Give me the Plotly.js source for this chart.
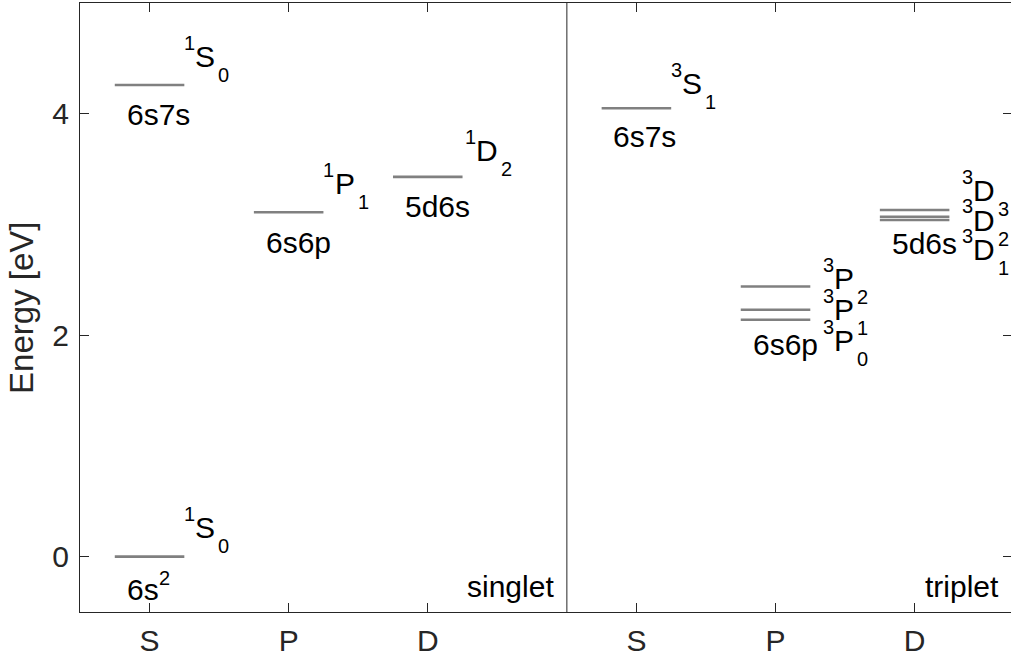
<!DOCTYPE html>
<html><head><meta charset="utf-8">
<script src="https://cdn.plot.ly/plotly-3.0.1.min.js"></script>
<style>html,body{margin:0;padding:0;overflow:hidden;background:#fff}#chart{width:1013px;height:659px}</style>
</head><body><div id="chart"></div>
<script>
// ---------------- data ----------------
const panelNames   = ['singlet', 'triplet'];
const orbitalNames = ['S', 'P', 'D'];
const levelMult    = [1, 1, 1, 1, 3, 3, 3, 3, 3, 3, 3];
const levelL       = ['S', 'S', 'P', 'D', 'S', 'P', 'P', 'P', 'D', 'D', 'D'];
const levelJ       = [0, 0, 1, 2, 1, 0, 1, 2, 1, 2, 3];
const levelConfig  = ['6s<sup>2</sup>', '6s7s', '6s6p', '5d6s', '6s7s', '6s6p', '6s6p', '6s6p', '5d6s', '5d6s', '5d6s'];
const levelEnergy  = [0.00, 4.26, 3.11, 3.43, 4.05, 2.14, 2.23, 2.44, 3.04, 3.07, 3.13];
const yTickVals    = [0, 2, 4];

// ---------------- layout helpers ----------------
const FONT = 'Liberation Sans, Arial, Helvetica, sans-serif';
const TXT = '#000000', AX = '#262626';
const BIG = 30, SMALL = 20;
const panelOffset = {1: 1, 3: 4.5};          // x of S column in each panel
const colX = (mult, L) => panelOffset[mult] + orbitalNames.indexOf(L);
const xTickVals = [], xTickText = [];
[1, 3].forEach(m => orbitalNames.forEach(L => { xTickVals.push(colX(m, L)); xTickText.push(L); }));

const ctx = document.createElement('canvas').getContext('2d');
function tw(s, size) { ctx.font = size + 'px "Liberation Sans"'; return ctx.measureText(s).width; }

// term label placement (letter centre) relative to level energy
const termDx = i => (levelMult[i] === 3 && levelL[i] !== 'S') ? 0.34 : (levelL[i] === 'D' ? 0.27 : 0.25);
const termDy = [0.26, 0.255, 0.26, 0.24, 0.22, -0.185, 0.005, 0.075, -0.27, -0.03, 0.18];
// configuration label placement relative to lowest level of the group
const cfgDy = {'1|6s<sup>2</sup>': -0.30, '1|6s7s': -0.265, '1|6s6p': -0.27, '1|5d6s': -0.265,
               '3|6s7s': -0.253, '3|6s6p': -0.222, '3|5d6s': -0.209};

const annotations = [];
function piece(x, y, text, size, xshift, yshift, color) {
  annotations.push({x: x, y: y, xref: 'x', yref: 'y', text: text, showarrow: false,
    xanchor: 'left', yanchor: 'middle', xshift: xshift, yshift: yshift,
    borderpad: 0, borderwidth: 0, font: {family: FONT, size: size, color: color || TXT}});
}

// level lines
const lx = [], ly = [];
levelEnergy.forEach((E, i) => {
  const p = colX(levelMult[i], levelL[i]);
  lx.push(p - 0.25, p + 0.25, null); ly.push(E, E, null);
});

// term symbols
levelEnergy.forEach((E, i) => {
  const x = colX(levelMult[i], levelL[i]) + termDx(i);
  const y = E + termDy[i];
  const sup = String(levelMult[i]), L = levelL[i], sub = String(levelJ[i]);
  const ws = tw(sup, SMALL), wl = tw(L, BIG);
  piece(x, y, sup, SMALL, 0, 13.6);
  piece(x, y, L, BIG, ws, 0);
  piece(x, y, sub, SMALL, ws + wl + 3, -18.5);
});

// configuration labels (one per group)
const groups = {};
levelEnergy.forEach((E, i) => {
  const k = levelMult[i] + '|' + levelConfig[i];
  if (!(k in groups) || E < groups[k].E) groups[k] = {E: E, i: i};
});
Object.keys(groups).forEach(k => {
  const g = groups[k], i = g.i;
  const x = colX(levelMult[i], levelL[i]) - 0.165;
  const y = g.E + cfgDy[k];
  const m = levelConfig[i].match(/^([^<]*)(?:<sup>(.*)<\/sup>)?$/);
  piece(x, y, m[1], BIG, 0, 0);
  if (m[2]) piece(x, y, m[2], SMALL, tw(m[1], BIG) + 0.5, 12);
});

// panel names
const panelRight = [3.91, 7.11];
panelNames.forEach((n, k) => {
  annotations.push({x: panelRight[k], y: -0.268, xref: 'x', yref: 'y', text: n, showarrow: false,
    xanchor: 'right', yanchor: 'middle', borderpad: 0, borderwidth: 0,
    font: {family: FONT, size: BIG, color: TXT}});
});

const trace = {x: lx, y: ly, type: 'scatter', mode: 'lines', hoverinfo: 'skip',
  line: {color: '#808080', width: 2.6}, showlegend: false};

const layout = {
  width: 1013, height: 659,
  margin: {l: 80, r: 1, t: 3, b: 47},
  paper_bgcolor: '#ffffff', plot_bgcolor: '#ffffff',
  font: {family: FONT, color: AX},
  xaxis: {range: [0.5, 7.2], tickvals: xTickVals, ticktext: xTickText,
    ticks: 'inside', ticklen: 9, tickwidth: 1, tickcolor: AX,
    showline: true, linecolor: AX, linewidth: 1, mirror: 'ticks',
    showgrid: false, zeroline: false, ticklabelstandoff: 2,
    tickfont: {family: FONT, size: BIG, color: AX}},
  yaxis: {range: [-0.5, 5], tickvals: yTickVals, ticktext: yTickVals.map(String),
    ticks: 'inside', ticklen: 9, tickwidth: 1, tickcolor: AX,
    showline: true, linecolor: AX, linewidth: 1, mirror: 'ticks',
    showgrid: false, zeroline: false, ticklabelstandoff: 4,
    tickfont: {family: FONT, size: BIG, color: AX}},
  shapes: [{type: 'line', xref: 'x', yref: 'paper', x0: 4, x1: 4, y0: 0, y1: 1,
    line: {color: AX, width: 1}}],
  annotations: annotations.concat([{
    xref: 'paper', yref: 'paper', x: -0.043, y: 0.5, xanchor: 'right', yanchor: 'middle',
    textangle: -90, showarrow: false, text: 'Energy [eV]', borderpad: 0, borderwidth: 0,
    font: {family: FONT, size: 33, color: AX}}])
};

Plotly.newPlot('chart', [trace], layout, {displayModeBar: false, staticPlot: true});
</script>
</body></html>
